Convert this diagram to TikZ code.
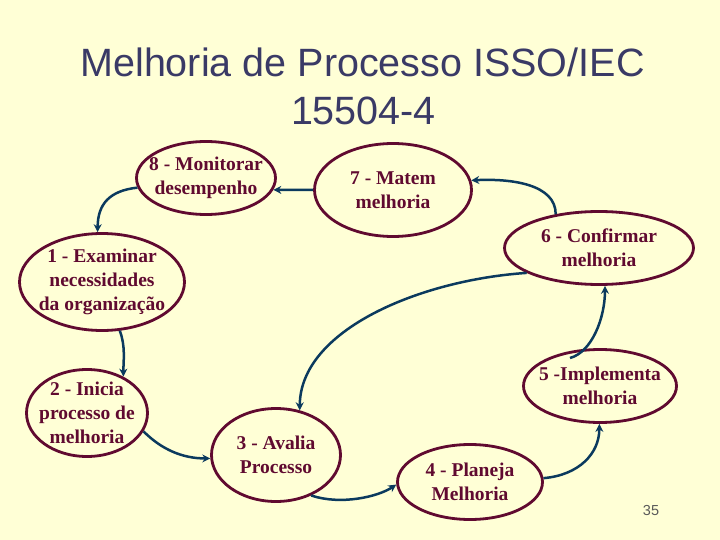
\documentclass[tikz,border=0pt]{standalone}
\usepackage{fontspec}
\setmainfont{Liberation Serif}
\newfontfamily\titlefont{Liberation Sans}
\usetikzlibrary{shapes.geometric,arrows.meta}
\definecolor{bg}{HTML}{FFFFD6}
\definecolor{maroon}{HTML}{600A30}
\definecolor{arrowblue}{HTML}{0B3A5E}
\definecolor{titleblue}{HTML}{3A3A66}
\tikzset{
  stage/.style={ellipse, draw=maroon, line width=2.8pt, inner sep=0pt},
  lbl/.style={text=maroon, align=center, inner sep=0pt,
    font=\fontsize{19.5}{24}\selectfont\bfseries},
  flow/.style={draw=arrowblue, line width=2.5pt,
    -{Stealth[length=8pt,width=8pt]}},
  ttl/.style={text=titleblue, anchor=base, inner sep=0pt,
    font=\titlefont\fontsize{39.5}{48}\selectfont}
}
\begin{document}
\begin{tikzpicture}[x=1pt,y=-1pt]
\fill[bg] (0,0) rectangle (720,540);
\useasboundingbox (0,0) rectangle (720,540);
\node[ttl] (t1) at (362.5,77) {Melhoria de Processo ISSO/IEC};
\node[ttl] (t2) at (363.5,125) {15504-4};
\node[stage, minimum width=139pt, minimum height=73pt] (n8) at (206,178) {};
\node[lbl] (l8) at (n8) {8 - Monitorar\\desempenho};
\node[stage, minimum width=157pt, minimum height=93pt] (n7) at (393,190) {};
\node[lbl] (l7) at (n7) {7 - Matem\\melhoria};
\node[stage, minimum width=189pt, minimum height=73pt] (n6) at (599,248) {};
\node[lbl] (l6) at (n6) {6 - Confirmar\\melhoria};
\node[stage, minimum width=165pt, minimum height=97pt] (n1) at (102,282) {};
\node[lbl] (l1) at (n1) {1 - Examinar\\necessidades\\da organização};
\node[stage, minimum width=121pt, minimum height=87pt] (n2) at (87,413) {};
\node[lbl] (l2) at (n2) {2 - Inicia\\processo de\\melhoria};
\node[stage, minimum width=129pt, minimum height=93pt] (n3) at (276,455) {};
\node[lbl] (l3) at (n3) {3 - Avalia\\Processo};
\node[stage, minimum width=153pt, minimum height=73pt] (n5) at (600,386) {};
\node[lbl] (l5) at (n5) {5 -Implementa\\melhoria};
\node[stage, minimum width=145pt, minimum height=75pt] (n4) at (470,482) {};
\node[lbl] (l4) at (n4) {4 - Planeja\\Melhoria};
\coordinate (s5) at (570,358);
\draw[flow] (n7.180) -- (n8.-10);
\draw[flow] (n6.142) .. controls +(0,-30) and +(40,-2) .. (n7.7);
\draw[flow] (n8.188) .. controls +(-28,3) and +(0,-28) .. (n1.95);
\draw[flow] (n1.-70) .. controls +(6,15) and +(0,-15) .. (n2.45);
\draw[flow] (n2.-18) .. controls +(18,18) and +(-28,0) .. (n3.183);
\draw[flow] (n3.-49) .. controls +(30,10) and +(-18,12) .. (n4.182);
\draw[flow] (n4.3) .. controls +(35,-3) and +(0,30) .. (n5.-91);
\draw[flow] (s5) .. controls +(22,-6) and +(0,32) .. (n6.-81);
\draw[flow] (n6.199) .. controls (420,280) and (300,330) .. (n3.62);
\node[text=black!65, font=\titlefont\fontsize{14.5}{16}\selectfont] (pg) at (651,511) {35};
\end{tikzpicture}
\end{document}
